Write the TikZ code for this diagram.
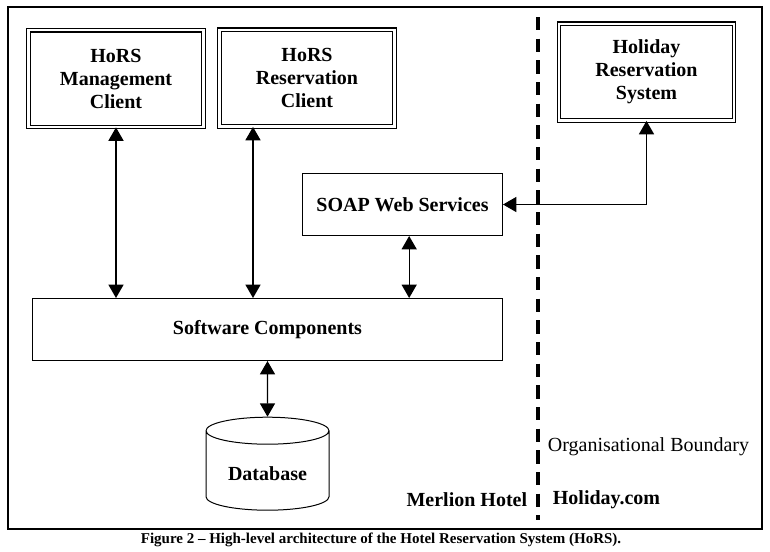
\documentclass[tikz,border=0pt]{standalone}
\usepackage{fontspec}
\setmainfont{Liberation Serif}
\usepackage{tikz}
\usetikzlibrary{arrows.meta, shapes.geometric}

\tikzset{
  client/.style={draw, double, double distance=1.4pt, line width=0.7pt, align=center,
    font=\fontsize{12}{13.8}\selectfont\bfseries, minimum width=105pt, minimum height=58pt, inner sep=0pt},
  part/.style={draw, line width=0.6pt, font=\fontsize{12}{13.8}\selectfont\bfseries, minimum height=37.2pt, inner sep=0pt},
  link/.style={line width=0.8pt, {Triangle[width=9pt,length=8pt]}-{Triangle[width=9pt,length=8pt]}},
  side/.style={font=\fontsize{12}{13.8}\selectfont\bfseries},
}

\begin{document}
\begin{tikzpicture}[x=0.6pt,y=-0.6pt]
\useasboundingbox (0,0) rectangle (770,551);
\draw[line width=0.7pt] (8,7) rectangle (762,529);
\draw[line width=2pt, dash pattern=on 8pt off 5pt] (538,17) -- (538,520);
\node[client] (mgmt) at (116,78.5) {HoRS\\Management\\Client};
\node[client] (resv) at (307,78) {HoRS\\Reservation\\Client};
\node[client] (holiday) at (646.5,72) {Holiday\\Reservation\\System};
\node[part, minimum width=120pt] (soap) at (402.5,204.5) {SOAP Web Services};
\node[part, minimum width=282pt] (soft) at (267.5,329.5) {Software Components};
\node[draw, line width=0.6pt, cylinder, shape border rotate=90, aspect=0.3, minimum width=73.8pt, minimum height=55.8pt,
  font=\fontsize{12}{13.8}\selectfont\bfseries] (db) at (267.5,473.5) {Database};
\draw[link] (mgmt.south) -- (mgmt.south |- soft.north);
\draw[link] ([xshift=-32.4pt]resv.south) -- ([xshift=-32.4pt]resv.south |- soft.north);
\draw[link] ([xshift=4pt]soap.south) -- ([xshift=4pt]soap.south |- soft.north);
\draw[link] (soft.south) -- (db.north);
\draw[link] (holiday.south) |- (soap.east);
\node[anchor=west, font=\fontsize{12}{13.8}\selectfont] (bound) at (542,447) {Organisational Boundary};
\node[side, anchor=east] (merlion) at (533,500) {Merlion Hotel};
\node[side, anchor=west] (hcom) at (547,500) {Holiday.com};
\node[font=\fontsize{9}{11}\selectfont\bfseries] (caption) at (381,539.5) {Figure 2 -- High-level architecture of the Hotel Reservation System (HoRS).};
\end{tikzpicture}
\end{document}
